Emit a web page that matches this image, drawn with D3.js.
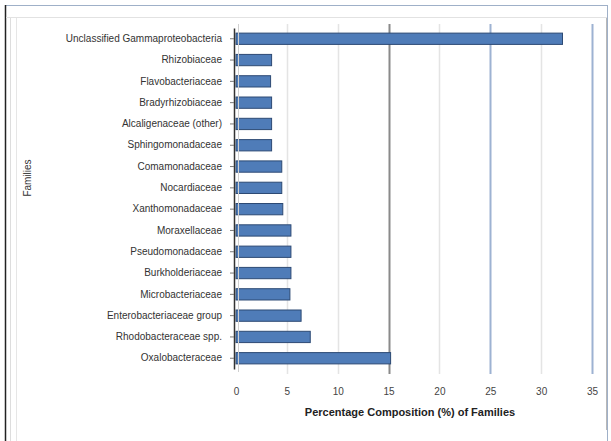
<!DOCTYPE html>
<html>
<head>
<meta charset="utf-8">
<script src="https://cdn.jsdelivr.net/npm/d3@7"></script>
<style>
  html, body { margin: 0; padding: 0; background: #fff; }
  svg { display: block; font-family: "Liberation Sans", Arial, sans-serif; }
</style>
</head>
<body>
<svg id="chart" width="611" height="441"></svg>
<script>
const categories = [
  "Unclassified Gammaproteobacteria",
  "Rhizobiaceae",
  "Flavobacteriaceae",
  "Bradyrhizobiaceae",
  "Alcaligenaceae (other)",
  "Sphingomonadaceae",
  "Comamonadaceae",
  "Nocardiaceae",
  "Xanthomonadaceae",
  "Moraxellaceae",
  "Pseudomonadaceae",
  "Burkholderiaceae",
  "Microbacteriaceae",
  "Enterobacteriaceae group",
  "Rhodobacteraceae spp.",
  "Oxalobacteraceae"
];
const values = [32.1, 3.5, 3.4, 3.5, 3.5, 3.5, 4.5, 4.5, 4.6, 5.4, 5.4, 5.4, 5.3, 6.4, 7.3, 15.2];
const xTicks = [0, 5, 10, 15, 20, 25, 30, 35];
const xTitle = "Percentage Composition (%) of Families";
const yTitle = "Families";

const svg = d3.select("#chart");

// window frame
svg.append("rect").attr("x", 5.5).attr("y", 5.5).attr("width", 602).attr("height", 436)
  .attr("fill", "none").attr("stroke", "#9fb0c8").attr("stroke-width", 1);
svg.append("line").attr("x1", 5.5).attr("x2", 5.5).attr("y1", 5).attr("y2", 441)
  .attr("stroke", "#222").attr("stroke-width", 1.5);
svg.append("line").attr("x1", 10.5).attr("x2", 10.5).attr("y1", 18).attr("y2", 441)
  .attr("stroke", "#ddd");
svg.append("line").attr("x1", 16.5).attr("x2", 16.5).attr("y1", 18).attr("y2", 441)
  .attr("stroke", "#e6e6e6");
svg.append("line").attr("x1", 6).attr("x2", 607).attr("y1", 17.5).attr("y2", 17.5)
  .attr("stroke", "#e2e2e2");
svg.append("line").attr("x1", 606.5).attr("x2", 606.5).attr("y1", 18).attr("y2", 430)
  .attr("stroke", "#b8b8b8");

const x = d3.scaleLinear().domain([0, 35]).range([236, 592]);
const y = d3.scaleBand().domain(categories).range([28, 369]).paddingInner(0.47).paddingOuter(0.24);

// gridlines
const gridColor = v => v === 15 ? "#8a8a8a" : (v === 25 || v === 35) ? "#9db2d2" : "#e4e4e4";
svg.append("g").selectAll("line").data(xTicks.filter(d => d > 0)).join("line")
  .attr("x1", d => Math.round(x(d)) + 0.5).attr("x2", d => Math.round(x(d)) + 0.5)
  .attr("y1", 24).attr("y2", 374)
  .attr("stroke", gridColor).attr("stroke-width", d => (d === 15 || d === 25 || d === 35) ? 2 : 1.5);

// bars
svg.append("g").selectAll("rect").data(categories).join("rect")
  .attr("x", x(0))
  .attr("y", d => y(d))
  .attr("width", (d, i) => x(values[i]) - x(0))
  .attr("height", y.bandwidth())
  .attr("fill", "#4f7cb8")
  .attr("stroke", "#2d4a74")
  .attr("stroke-width", 1);

// y axis
const yAxis = d3.axisLeft(y).tickSize(4).tickSizeOuter(0).tickPadding(8);
const gy = svg.append("g").attr("transform", `translate(${x(0) - 2},0)`).call(yAxis);
gy.select(".domain").attr("stroke", "#333").attr("stroke-width", 1.5);
gy.selectAll(".tick line").attr("stroke", "#777");
gy.selectAll(".tick text").attr("font-size", 10).attr("fill", "#333")
  .attr("font-family", "\"Liberation Sans\", Arial, sans-serif");
svg.append("line").attr("x1", x(0) + 2.5).attr("x2", x(0) + 2.5).attr("y1", 24).attr("y2", 372)
  .attr("stroke", "#d0d0d0");

// x axis (labels only)
const xAxis = d3.axisBottom(x).tickValues(xTicks).tickFormat(d3.format("d")).tickSize(0).tickPadding(10);
const gx = svg.append("g").attr("transform", "translate(0,378)").call(xAxis);
gx.select(".domain").remove();
gx.selectAll(".tick text").attr("font-size", 10).attr("fill", "#444")
  .attr("font-family", "\"Liberation Sans\", Arial, sans-serif");

// titles
svg.append("text").attr("x", 410).attr("y", 416).attr("text-anchor", "middle")
  .attr("font-size", 11).attr("font-weight", "bold").attr("fill", "#222").text(xTitle);
svg.append("text").attr("transform", "translate(31,178) rotate(-90)").attr("text-anchor", "middle")
  .attr("font-size", 10).attr("fill", "#333").text(yTitle);
</script>
</body>
</html>
